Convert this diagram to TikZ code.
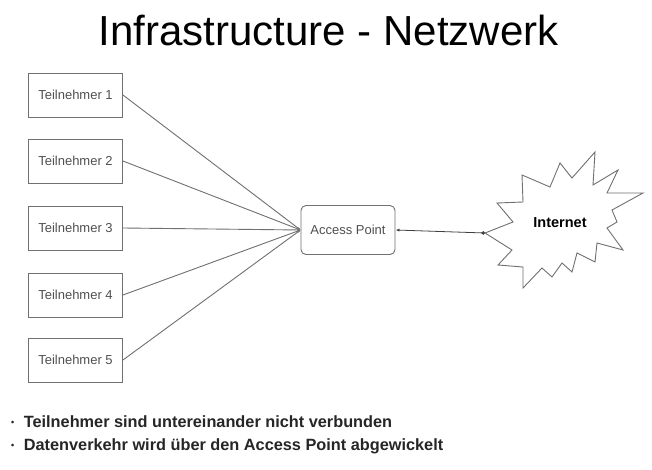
\documentclass[tikz,border=0pt]{standalone}
\usepackage{fontspec}
\setmainfont{Liberation Sans}
\usetikzlibrary{arrows.meta}
\definecolor{boxline}{HTML}{707070}
\definecolor{boxtext}{HTML}{505050}
\begin{document}
\begin{tikzpicture}[x=1pt,y=-1pt,
  member/.style={draw=boxline,line width=0.9pt,minimum width=94pt,minimum height=44pt,inner sep=0pt,
    text=boxtext,font=\fontsize{13}{13}\selectfont},
  apbox/.style={draw=boxline,line width=0.9pt,rounded corners=5pt,minimum width=94pt,minimum height=49pt,inner sep=0pt,
    text=boxtext,font=\fontsize{13}{13}\selectfont},
  link/.style={draw=boxline,line width=0.9pt},
  bullettext/.style={anchor=base west,inner sep=0pt,font=\bfseries\fontsize{16.3}{17}\selectfont,text=black!85}
]
\useasboundingbox (0,0) rectangle (652,470);
\fill[white] (0,0) rectangle (652,470);

\node[anchor=base,inner sep=0pt,font=\fontsize{42}{48}\selectfont] (title) at (328.5,46) {Infrastructure - Netzwerk};

\node[member] (t1) at (75.5,95) {Teilnehmer 1};
\node[member] (t2) at (75.5,161) {Teilnehmer 2};
\node[member] (t3) at (75.5,228) {Teilnehmer 3};
\node[member] (t4) at (75.5,295) {Teilnehmer 4};
\node[member] (t5) at (75.5,360) {Teilnehmer 5};

\node[apbox] (ap) at (348,230) {Access Point};

\foreach \t in {t1,t2,t3,t4,t5}
  \draw[link,-{Latex[length=3pt,width=2.5pt]}] (\t.east) -- (ap.west);

% Internet burst
\draw[draw=boxline,line width=0.9pt,fill=white]
  (485,233) -- (513,222) -- (497,203) -- (523,202) -- (522,175) -- (550,187) -- (560,163) -- (572,178)
  -- (595,152) -- (593,185) -- (618,170) -- (607,193) -- (643,193) -- (612,210) -- (617,222) -- (607,228)
  -- (623,250) -- (597,243) -- (595,262) -- (577,253) -- (572,272) -- (562,263) -- (552,277) -- (542,268)
  -- (523,288) -- (523,267) -- (498,265) -- (512,250) -- cycle;
\coordinate (inettip) at (485,233);
\node[inner sep=0pt,font=\bfseries\fontsize{14.5}{15}\selectfont] (inet) at (560,222.5) {Internet};

\draw[draw=black!75,line width=0.8pt,{Latex[length=4pt,width=3pt]}-{Circle[length=3.5pt]}] (ap.east) -- (inettip);

\node[bullettext] (b1) at (11,427) {\raisebox{1.5pt}{\fontsize{9}{9}\selectfont •}\hspace{9.5pt}Teilnehmer sind untereinander nicht verbunden};
\node[bullettext] (b2) at (11,450) {\raisebox{1.5pt}{\fontsize{9}{9}\selectfont •}\hspace{9.5pt}Datenverkehr wird über den Access Point abgewickelt};
\end{tikzpicture}
\end{document}
